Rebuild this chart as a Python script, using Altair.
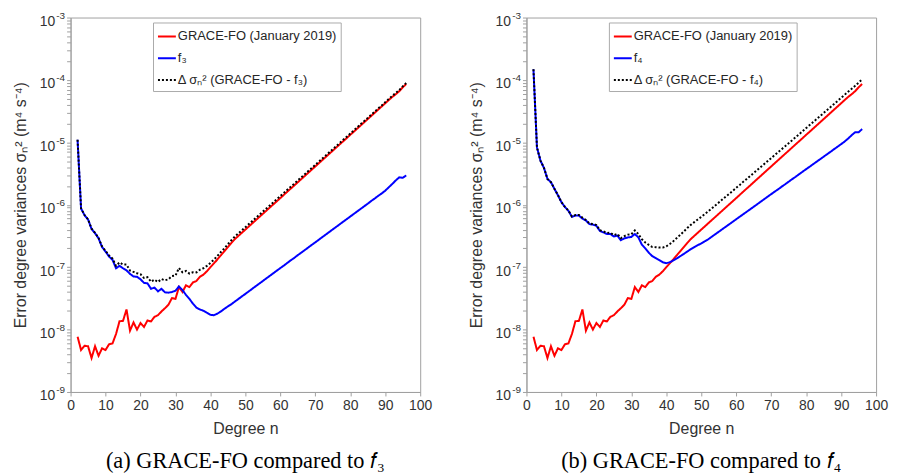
import altair as alt
import pandas as pd

# spherical harmonic degrees
degree = list(range(2, 97))

# GRACE-FO (January 2019) error degree variances (same in both panels)
grace = [7.7e-9, 4.7e-9, 5.5e-9, 5.4e-9, 3.5e-9, 5.4e-9, 3.8e-9, 5.0e-9, 4.7e-9, 5.8e-9,
         6.0e-9, 8.5e-9, 1.36e-8, 1.38e-8, 2.1e-8, 9.6e-9, 1.3e-8, 1.0e-8, 1.27e-8, 1.1e-8,
         1.4e-8, 1.35e-8, 1.6e-8, 1.7e-8, 1.95e-8, 2.2e-8, 2.5e-8, 3.2e-8, 3.1e-8, 4.8e-8,
         4.0e-8, 5.1e-8, 4.8e-8, 5.7e-8, 6.0e-8, 7.0e-8, 7.6e-8, 8.6e-8, 1.0e-7, 1.15e-7,
         1.33e-7, 1.55e-7, 1.8e-7, 2.1e-7, 2.45e-7, 2.82e-7, 3.17e-7, 3.56e-7, 4.0e-7, 4.49e-7,
         5.05e-7, 5.67e-7, 6.37e-7, 7.16e-7, 8.04e-7, 9.03e-7, 1.015e-6, 1.14e-6, 1.28e-6, 1.44e-6,
         1.62e-6, 1.82e-6, 2.04e-6, 2.30e-6, 2.58e-6, 2.90e-6, 3.26e-6, 3.66e-6, 4.11e-6, 4.62e-6,
         5.19e-6, 5.83e-6, 6.55e-6, 7.36e-6, 8.27e-6, 9.29e-6, 1.044e-5, 1.17e-5, 1.32e-5, 1.48e-5,
         1.66e-5, 1.87e-5, 2.10e-5, 2.36e-5, 2.65e-5, 2.98e-5, 3.35e-5, 3.76e-5, 4.23e-5, 4.75e-5,
         5.33e-5, 5.9e-5, 6.6e-5, 7.6e-5, 8.6e-5]

# f3 error degree variances
f3 = [1.1e-5, 8.7e-7, 6.8e-7, 5.8e-7, 4.1e-7, 3.5e-7, 2.9e-7, 2.1e-7, 1.78e-7, 1.48e-7,
      1.31e-7, 9.6e-8, 1.05e-7, 9.6e-8, 8.9e-8, 7.8e-8, 7.1e-8, 7.0e-8, 6.4e-8, 5.6e-8,
      5.5e-8, 4.5e-8, 4.7e-8, 4.1e-8, 4.5e-8, 3.95e-8, 3.9e-8, 4.0e-8, 4.2e-8, 4.9e-8,
      4.3e-8, 3.6e-8, 3.1e-8, 2.6e-8, 2.25e-8, 2.1e-8, 2.0e-8, 1.86e-8, 1.72e-8, 1.7e-8,
      1.8e-8, 1.95e-8, 2.15e-8, 2.35e-8, 2.55e-8, 2.81e-8, 3.09e-8, 3.40e-8, 3.73e-8, 4.10e-8,
      4.52e-8, 4.97e-8, 5.46e-8, 6.01e-8, 6.61e-8, 7.27e-8, 8.0e-8, 8.79e-8, 9.67e-8, 1.06e-7,
      1.17e-7, 1.29e-7, 1.41e-7, 1.56e-7, 1.71e-7, 1.88e-7, 2.07e-7, 2.28e-7, 2.50e-7, 2.75e-7,
      3.03e-7, 3.33e-7, 3.66e-7, 4.03e-7, 4.43e-7, 4.87e-7, 5.36e-7, 5.89e-7, 6.48e-7, 7.12e-7,
      7.83e-7, 8.61e-7, 9.47e-7, 1.04e-6, 1.15e-6, 1.26e-6, 1.39e-6, 1.52e-6, 1.68e-6, 1.9e-6,
      2.15e-6, 2.45e-6, 2.75e-6, 2.7e-6, 2.95e-6]

# difference degree variances GRACE-FO - f3
diff3 = [1.1e-5, 8.75e-7, 6.85e-7, 5.85e-7, 4.14e-7, 3.55e-7, 2.94e-7, 2.15e-7, 1.83e-7, 1.54e-7,
         1.37e-7, 1.05e-7, 1.19e-7, 1.10e-7, 1.10e-7, 8.8e-8, 8.4e-8, 8.0e-8, 7.7e-8, 6.7e-8,
         6.9e-8, 5.85e-8, 6.3e-8, 5.8e-8, 6.45e-8, 6.15e-8, 6.4e-8, 7.2e-8, 7.3e-8, 9.7e-8,
         8.3e-8, 8.7e-8, 7.9e-8, 8.3e-8, 8.25e-8, 9.1e-8, 9.6e-8, 1.05e-7, 1.17e-7, 1.32e-7,
         1.51e-7, 1.75e-7, 2.0e-7, 2.34e-7, 2.7e-7, 3.1e-7, 3.48e-7, 3.9e-7, 4.37e-7, 4.9e-7,
         5.5e-7, 6.17e-7, 6.92e-7, 7.76e-7, 8.7e-7, 9.76e-7, 1.095e-6, 1.23e-6, 1.38e-6, 1.55e-6,
         1.74e-6, 1.95e-6, 2.18e-6, 2.46e-6, 2.75e-6, 3.09e-6, 3.47e-6, 3.89e-6, 4.36e-6, 4.9e-6,
         5.49e-6, 6.16e-6, 6.92e-6, 7.76e-6, 8.71e-6, 9.78e-6, 1.10e-5, 1.23e-5, 1.38e-5, 1.55e-5,
         1.74e-5, 1.96e-5, 2.19e-5, 2.46e-5, 2.77e-5, 3.11e-5, 3.49e-5, 3.91e-5, 4.4e-5, 4.94e-5,
         5.55e-5, 6.15e-5, 6.88e-5, 7.87e-5, 8.9e-5]

# f4 error degree variances
f4 = [1.48e-4, 8.3e-6, 5.1e-6, 3.9e-6, 2.6e-6, 2.3e-6, 1.8e-6, 1.42e-6, 1.1e-6, 9.2e-7,
      8.0e-7, 6.4e-7, 6.7e-7, 6.7e-7, 6.0e-7, 5.6e-7, 4.9e-7, 4.8e-7, 4.6e-7, 3.8e-7,
      3.6e-7, 3.4e-7, 3.4e-7, 3.1e-7, 3.2e-7, 2.7e-7, 2.9e-7, 3.0e-7, 3.05e-7, 3.4e-7,
      3.0e-7, 2.3e-7, 2.0e-7, 1.7e-7, 1.5e-7, 1.39e-7, 1.3e-7, 1.2e-7, 1.16e-7, 1.2e-7,
      1.28e-7, 1.38e-7, 1.5e-7, 1.63e-7, 1.78e-7, 1.94e-7, 2.1e-7, 2.25e-7, 2.4e-7, 2.6e-7,
      2.8e-7, 3.07e-7, 3.37e-7, 3.69e-7, 4.05e-7, 4.44e-7, 4.87e-7, 5.34e-7, 5.86e-7, 6.43e-7,
      7.05e-7, 7.73e-7, 8.47e-7, 9.29e-7, 1.02e-6, 1.12e-6, 1.23e-6, 1.35e-6, 1.48e-6, 1.62e-6,
      1.77e-6, 1.95e-6, 2.13e-6, 2.34e-6, 2.57e-6, 2.81e-6, 3.09e-6, 3.39e-6, 3.72e-6, 4.07e-6,
      4.47e-6, 4.90e-6, 5.37e-6, 5.89e-6, 6.46e-6, 7.08e-6, 7.78e-6, 8.53e-6, 9.35e-6, 1.03e-5,
      1.15e-5, 1.3e-5, 1.45e-5, 1.45e-5, 1.63e-5]

# difference degree variances GRACE-FO - f4
diff4 = [1.48e-4, 8.3e-6, 5.1e-6, 3.9e-6, 2.6e-6, 2.3e-6, 1.8e-6, 1.43e-6, 1.1e-6, 9.26e-7,
         8.06e-7, 6.49e-7, 6.84e-7, 6.84e-7, 6.21e-7, 5.7e-7, 5.03e-7, 4.9e-7, 4.73e-7, 3.91e-7,
         3.74e-7, 3.54e-7, 3.56e-7, 3.27e-7, 3.4e-7, 2.92e-7, 3.15e-7, 3.32e-7, 3.36e-7, 3.88e-7,
         3.4e-7, 2.81e-7, 2.48e-7, 2.27e-7, 2.1e-7, 2.09e-7, 2.06e-7, 2.06e-7, 2.16e-7, 2.35e-7,
         2.61e-7, 2.93e-7, 3.3e-7, 3.73e-7, 4.23e-7, 4.76e-7, 5.27e-7, 5.81e-7, 6.4e-7, 7.09e-7,
         7.85e-7, 8.74e-7, 9.74e-7, 1.085e-6, 1.21e-6, 1.35e-6, 1.50e-6, 1.67e-6, 1.87e-6, 2.08e-6,
         2.33e-6, 2.59e-6, 2.89e-6, 3.23e-6, 3.6e-6, 4.02e-6, 4.49e-6, 5.01e-6, 5.59e-6, 6.24e-6,
         6.96e-6, 7.78e-6, 8.68e-6, 9.7e-6, 1.08e-5, 1.21e-5, 1.35e-5, 1.51e-5, 1.69e-5, 1.89e-5,
         2.11e-5, 2.36e-5, 2.64e-5, 2.95e-5, 3.3e-5, 3.69e-5, 4.13e-5, 4.61e-5, 5.17e-5, 5.78e-5,
         6.48e-5, 7.2e-5, 8.05e-5, 9.05e-5, 1.02e-4]

names_a = ["GRACE-FO (January 2019)", "f₃", "Δ σₙ² (GRACE-FO - f₃)"]
names_b = ["GRACE-FO (January 2019)", "f₄", "Δ σₙ² (GRACE-FO - f₄)"]
captions = ["(a) GRACE-FO compared to 𝑓₃", "(b) GRACE-FO compared to 𝑓₄"]
x_ticks = list(range(0, 101, 10))
decades = [10.0 ** e for e in range(-9, -2)]
y_ticks = [m * 10.0 ** e for e in range(-9, -3) for m in range(1, 10)] + [1e-3]

line_colors = ["#FF0000", "#0000FF", "#000000"]
line_dashes = [[1, 0], [1, 0], [2, 2]]
SANS = "Liberation Sans"
SERIF = "Liberation Serif"

# mantissa "10" on decade ticks only (minor ticks get no label)
base_expr = ("abs(log(datum.value)/LN10 - round(log(datum.value)/LN10)) < 0.001 ? '10' : ''")
# exponent drawn smaller and raised, like a superscript
exp_expr = "'-' + round(-log(datum.value)/LN10)"


def make_df(names, series):
    rows = []
    for name, vals in zip(names, series):
        for d, v in zip(degree, vals):
            rows.append({"degree": d, "value": v, "series": name})
    return pd.DataFrame(rows)


def panel(names, series, caption):
    df = make_df(names, series)
    legend = alt.Legend(
        title=None, orient="none", legendX=83, legendY=5,
        symbolType="stroke", symbolSize=324, symbolStrokeWidth=2,
        labelFont=SANS, labelFontSize=13, labelColor="#262626",
        strokeColor="#AAAAAA", fillColor="white", padding=4,
        rowPadding=5, labelOffset=1, labelLimit=400,
    )
    color = alt.Color("series:N", sort=names,
                      scale=alt.Scale(domain=names, range=line_colors), legend=legend)
    dash = alt.StrokeDash("series:N", sort=names,
                          scale=alt.Scale(domain=names, range=line_dashes), legend=legend)
    x = alt.X("degree:Q", scale=alt.Scale(domain=[0, 100], nice=False, zero=False),
              axis=alt.Axis(values=x_ticks, title="Degree n", format="d", labelFlush=False))
    yscale = alt.Scale(type="log", domain=[1e-9, 1e-3], nice=False)
    axis_main = alt.Axis(values=y_ticks, labelExpr=base_expr, orient="left",
                         labelPadding=12, labelOffset=4, labelFlush=False, tickSize=4,
                         title="Error degree variances σₙ² (m⁴ s⁻⁴)", titlePadding=11)
    axis_exp = alt.Axis(values=decades, labelExpr=exp_expr, orient="left",
                        ticks=False, tickSize=0, domain=False, labelPadding=6,
                        labelOffset=-2, labelFontSize=10, labelFlush=False, title=None)
    axes = [axis_main, axis_exp, None]
    layers = []
    for nm, ax in zip(names, axes):
        layers.append(
            alt.Chart(df).transform_filter(alt.datum.series == nm)
            .mark_line(strokeWidth=2, clip=True)
            .encode(x=x, y=alt.Y("value:Q", scale=yscale, axis=ax),
                    color=color, strokeDash=dash)
        )
    return alt.layer(*layers).resolve_axis(y="independent").properties(
        width=352, height=377,
        title=alt.TitleParams(caption, orient="bottom", font=SERIF, fontSize=22.5,
                              fontWeight="normal", color="#000000", offset=14,
                              anchor="middle", frame="group"),
    )


chart = (
    alt.hconcat(panel(names_a, [grace, f3, diff3], captions[0]),
                panel(names_b, [grace, f4, diff4], captions[1]), spacing=34)
    .resolve_scale(color="independent", strokeDash="independent")
    .resolve_legend(color="independent", strokeDash="independent")
    .properties(padding={"left": 3, "top": 0, "right": 0, "bottom": 0})
    .configure_view(stroke="#A0A0A0", strokeWidth=1)
    .configure_axis(
        labelFont=SANS, labelFontSize=14, labelColor="#333333",
        titleFont=SANS, titleFontSize=16, titleFontWeight="normal", titleColor="#333333",
        domainColor="#A0A0A0", tickColor="#A0A0A0", tickSize=4, grid=False,
        labelPadding=3, titlePadding=8,
    )
)

chart.save("out.html", embed_options={"renderer": "svg", "actions": False})
